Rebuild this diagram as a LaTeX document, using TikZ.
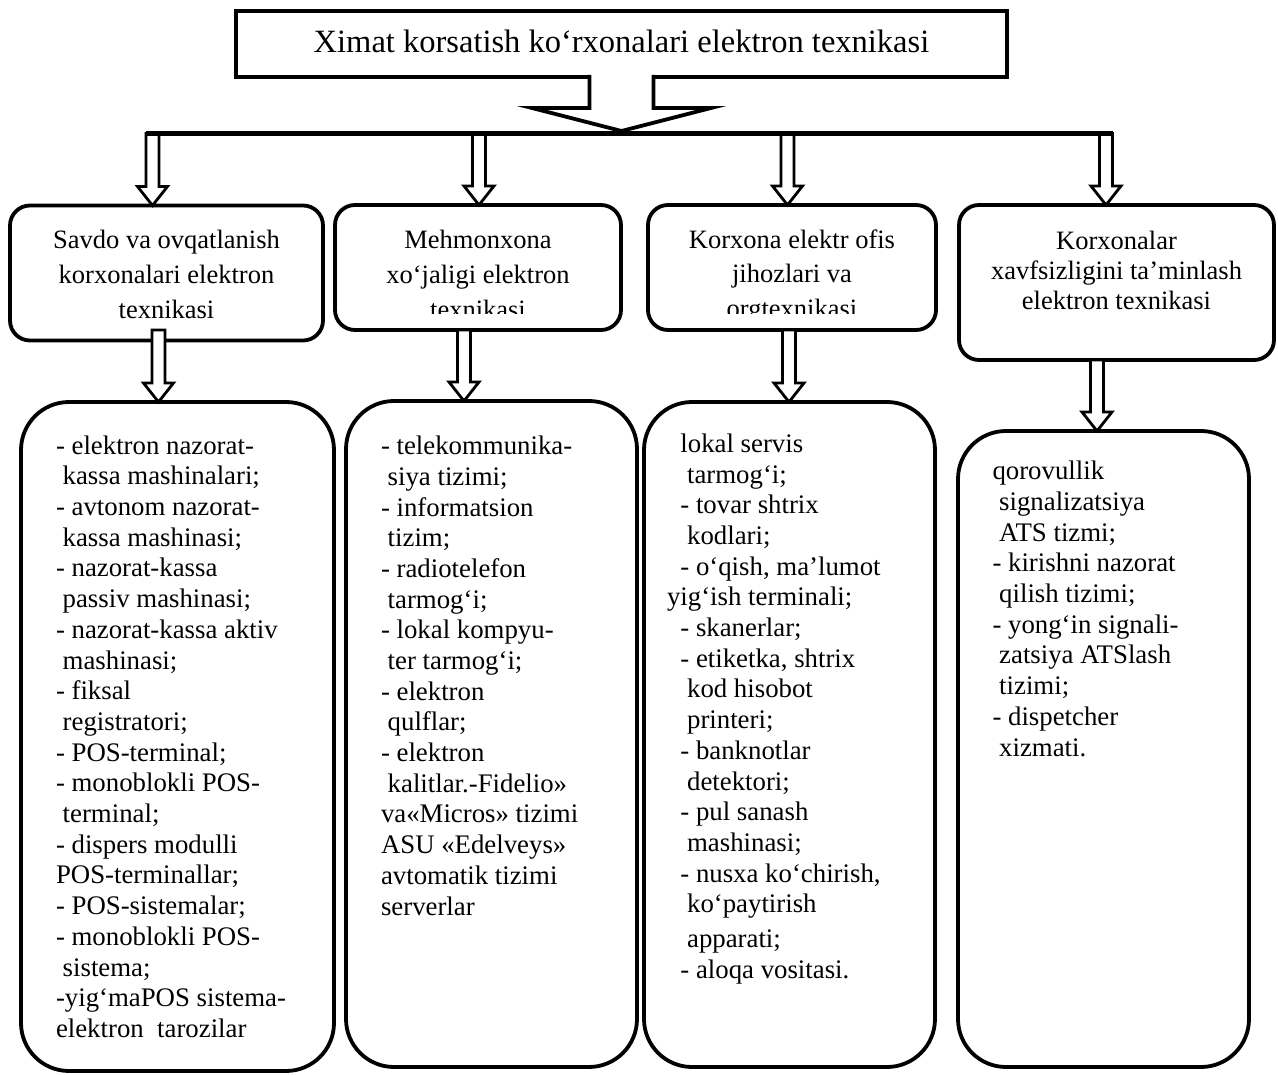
\documentclass[tikz,border=0pt]{standalone}
\usepackage{fontspec}
\setmainfont{Liberation Serif}
\usetikzlibrary{calc}
\newcommand\ispace{\hspace*{0.25em}}
\begin{document}
\begin{tikzpicture}[x=1pt,y=-1pt,every node/.style={inner sep=0pt, outer sep=0pt},
  headbox/.style={draw, line width=3.8pt, minimum width=771pt, minimum height=66pt, text depth=5pt, font=\fontsize{32.5}{38}\selectfont},
  catbox/.style={draw, line width=3.8pt, rounded corners=20pt},
  cattext/.style={anchor=north, align=center, font=\fontsize{26.5}{34.8}\selectfont},
  listbox/.style={draw, line width=3.8pt, rounded corners=48pt},
  listtext/.style={anchor=north west, align=left, font=\fontsize{26.8}{30.7}\selectfont},
  harrow/.style={draw, fill=white, line width=2.8pt, line join=miter},
  bar/.style={line width=5pt}]
\useasboundingbox (0,0) rectangle (1278,1075);
\node[headbox] (top) at (621.5,44) {Ximat korsatish ko‘rxonalari elektron texnikasi};
\coordinate (hub) at (621.5,131);
\node[catbox, minimum width=313pt, minimum height=135pt] (s1) at (166.5,273) {};
\node[catbox, minimum width=286pt, minimum height=125pt] (s2) at (478,267.5) {};
\node[catbox, minimum width=288pt, minimum height=125pt] (s3) at (792,267.5) {};
\node[catbox, minimum width=315pt, minimum height=155pt] (s4) at (1116.5,282.5) {};
\node[cattext] (s1txt) at (166.5,230.3) {Savdo va ovqatlanish\\korxonalari elektron\\texnikasi};
\begin{scope}
\clip (330,200) rectangle (940,313.5);
\node[cattext] (s2txt) at (478,230.5) {Mehmonxona\\xo‘jaligi elektron\\texnikasi};
\node[cattext] (s3txt) at (792,229.5) {Korxona elektr ofis\\jihozlari va\\orgtexnikasi};
\end{scope}
\node[cattext, font=\fontsize{26.5}{30}\selectfont] (s4txt) at (1116.5,231) {Korxonalar\\xavfsizligini ta’minlash\\elektron texnikasi};
\node[listbox, minimum width=313pt, minimum height=669pt] (l1) at (177.5,736.5) {};
\node[listbox, minimum width=291pt, minimum height=666pt] (l2) at (491.5,734) {};
\node[listbox, minimum width=291pt, minimum height=665pt] (l3) at (789.5,734.5) {};
\node[listbox, minimum width=291pt, minimum height=636pt] (l4) at (1103.5,749) {};
\node[listtext] (l1txt) at (56,435.5) {- elektron nazorat-\\
\ispace kassa mashinalari;\\
- avtonom nazorat-\\
\ispace kassa mashinasi;\\
- nazorat-kassa\\
\ispace passiv mashinasi;\\
- nazorat-kassa aktiv\\
\ispace mashinasi;\\
- fiksal\\
\ispace registratori;\\
- POS-terminal;\\
- monoblokli POS-\\
\ispace terminal;\\
- dispers modulli\\
POS-terminallar;\\
- POS-sistemalar;\\
- monoblokli POS-\\
\ispace sistema;\\
-yig‘maPOS sistema-\\
elektron\ \ tarozilar};
\node[listtext] (l2txt) at (381,436) {- telekommunika-\\
\ispace siya tizimi;\\
- informatsion\\
\ispace tizim;\\
- radiotelefon\\
\ispace tarmog‘i;\\
- lokal kompyu-\\
\ispace ter tarmog‘i;\\
- elektron\\
\ispace qulflar;\\
- elektron\\
\ispace kalitlar.-Fidelio»\\
va«Micros» tizimi\\
ASU «Edelveys»\\
avtomatik tizimi\\
serverlar};
\node[listtext] (l3txt) at (667,433.7) {\ispace\ispace lokal servis\\
\ispace\ispace\ispace tarmog‘i;\\
\ispace\ispace - tovar shtrix\\
\ispace\ispace\ispace kodlari;\\
\ispace\ispace - o‘qish, ma’lumot\\
yig‘ish terminali;\\
\ispace\ispace - skanerlar;\\
\ispace\ispace - etiketka, shtrix\\
\ispace\ispace\ispace kod hisobot\\
\ispace\ispace\ispace printeri;\\
\ispace\ispace - banknotlar\\
\ispace\ispace\ispace detektori;\\
\ispace\ispace - pul sanash\\
\ispace\ispace\ispace mashinasi;\\
\ispace\ispace - nusxa ko‘chirish,\\
\ispace\ispace\ispace ko‘paytirish\\[4pt]
\ispace\ispace\ispace apparati;\\
\ispace\ispace - aloqa vositasi.};
\node[listtext] (l4txt) at (992.5,461.2) {qorovullik\\
\ispace signalizatsiya\\
\ispace ATS tizmi;\\
- kirishni nazorat\\
\ispace qilish tizimi;\\
- yong‘in signali-\\
\ispace zatsiya ATSlash\\
\ispace tizimi;\\
- dispetcher\\
\ispace xizmati.};
\coordinate (t1) at (152.5,133.5);
\coordinate (t2) at (479,133.5);
\coordinate (t3) at (787.5,133.5);
\coordinate (t4) at (1106,133.5);
\coordinate (d1) at (158.5,330);
\coordinate (d2) at (464,330);
\coordinate (d3) at (789,330);
\coordinate (d4) at (1097,360);
\foreach \src/\dst in {t1/s1,t2/s2,t3/s3,t4/s4,d1/l1,d2/l2,d3/l3,d4/l4}
  \draw[harrow] let \p1=(\src), \p2=(\dst.north) in (\x1-6.5pt,\y1) -- (\x1-6.5pt,\y2+19pt) -- (\x1-15pt,\y2+19pt) -- (\x1,\y2) -- (\x1+15pt,\y2+19pt) -- (\x1+6.5pt,\y2+19pt) -- (\x1+6.5pt,\y1) -- cycle;
\draw[bar] ([xshift=-6.5pt]t1) -- ([xshift=6.5pt]t4);
\draw[harrow, line width=3.8pt] let \p1=(top.south), \p2=(hub) in (\x1-32pt,\y1+2pt) -- (\x1-32pt,\y1-31pt) -- (\x1-89.5pt,\y1-31pt) -- (\p2) -- (\x1+89.5pt,\y1-31pt) -- (\x1+32pt,\y1-31pt) -- (\x1+32pt,\y1+2pt);
\end{tikzpicture}
\end{document}
